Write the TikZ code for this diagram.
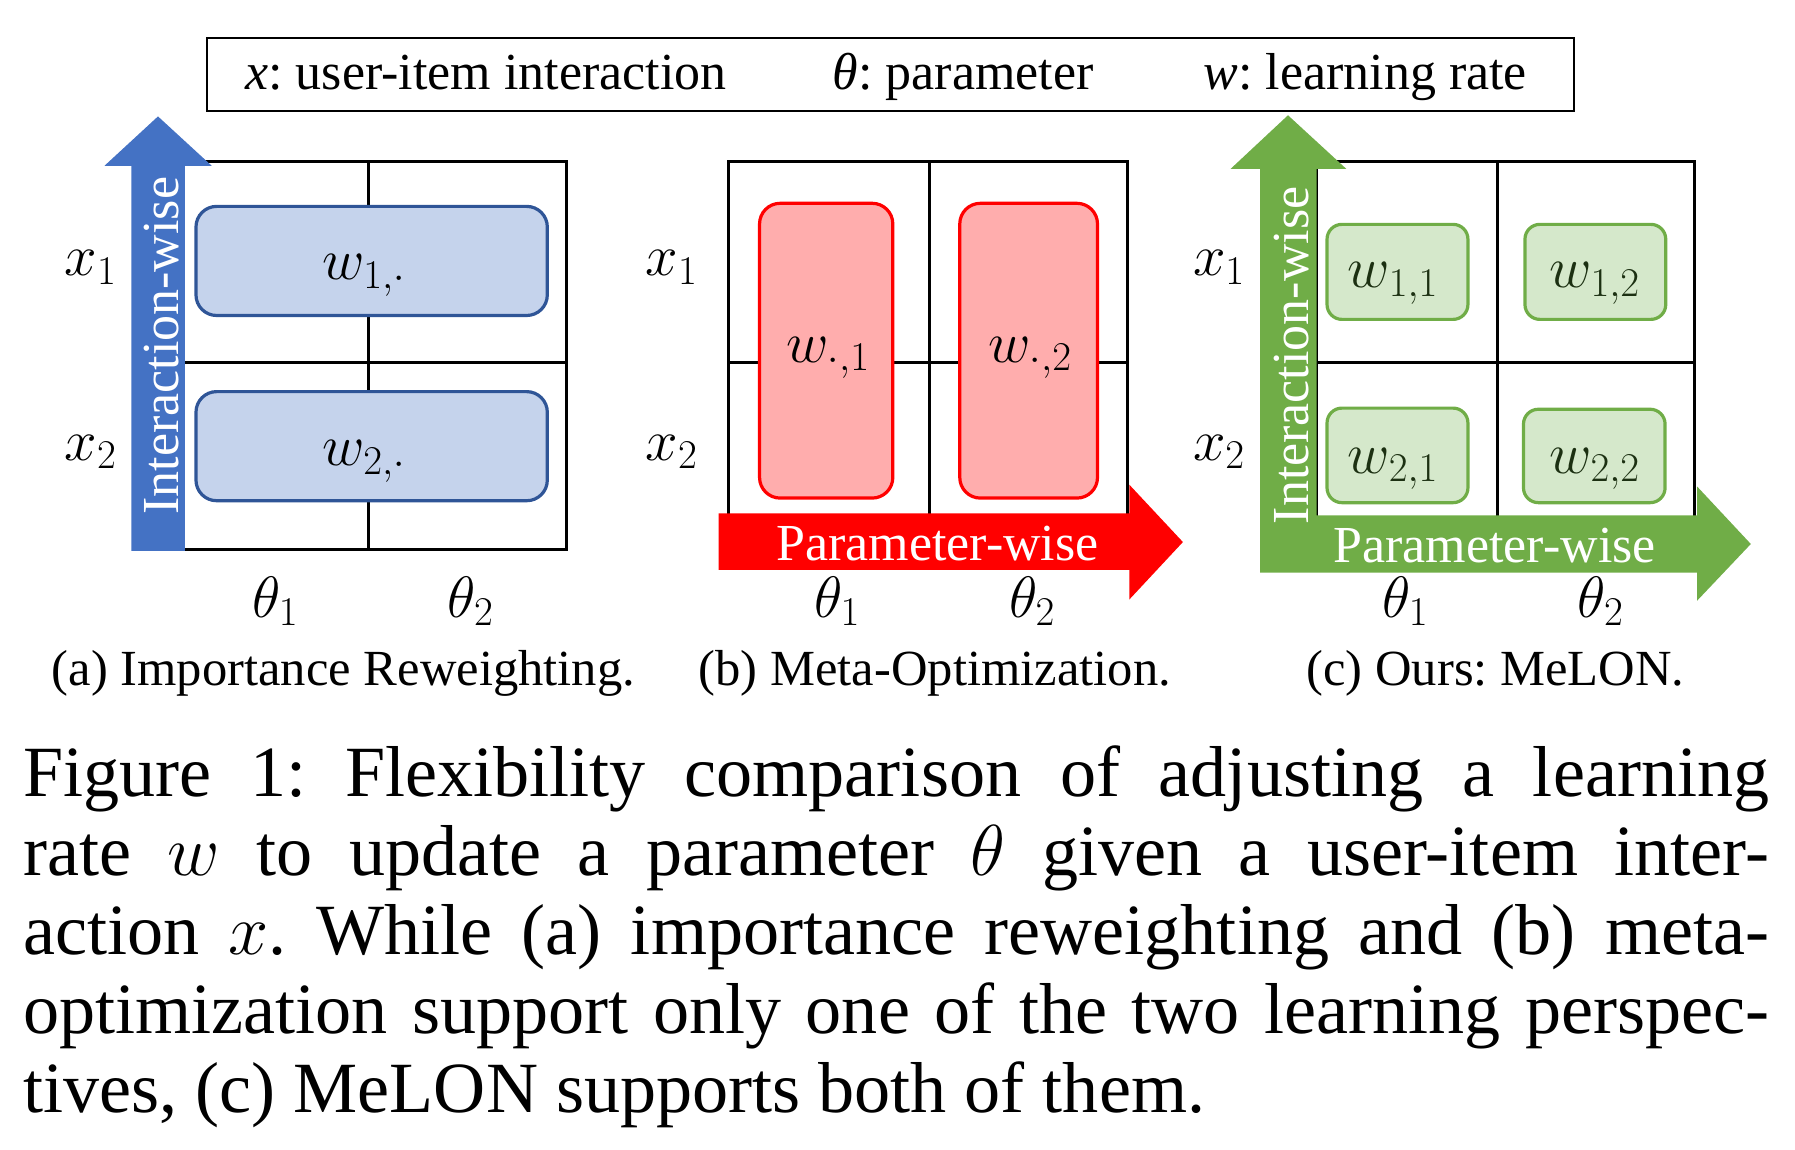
\RequirePackage{fix-cm}
\documentclass[tikz,border=0pt]{standalone}
\usepackage{fontspec}
\setmainfont{Liberation Serif}
\frenchspacing
\definecolor{ablue}{RGB}{68,114,196}
\definecolor{bfill}{RGB}{197,211,236}
\definecolor{bline}{RGB}{47,85,151}
\definecolor{rfill}{RGB}{255,173,173}
\definecolor{rline}{RGB}{255,0,0}
\definecolor{agreen}{RGB}{112,173,71}
\definecolor{gfill}{RGB}{213,232,203}
\definecolor{gtext}{RGB}{28,48,18}
\begin{document}
\begin{tikzpicture}[x=0.5pt,y=-0.5pt,
  gridline/.style={line width=1.4pt, draw=black},
  mlab/.style={font=\fontsize{25.5}{30}\selectfont, inner sep=0pt, anchor=base},
  tlab/.style={font=\fontsize{22.7}{26}\selectfont, inner sep=0pt},
  sublab/.style={font=\fontsize{22.1}{26}\selectfont, inner sep=0pt, anchor=base},
  atext/.style={tlab, text=white, anchor=base},
  bluebox/.style={fill=bfill, draw=bline, line width=1.4pt, rounded corners=9pt},
  redbox/.style={fill=rfill, draw=rline, line width=1.4pt, rounded corners=9pt},
  greenbox/.style={fill=gfill, draw=agreen, line width=1.4pt, rounded corners=6.5pt},
  capline/.style={font=\fontsize{31.5}{35}\selectfont, inner sep=0pt, anchor=base west},
]
\useasboundingbox (0,0) rectangle (1568,1004);

% legend
\draw[line width=1.1pt] (181,33) rectangle (1375,97);
\node[tlab, anchor=base west] (lx) at (214,78) {\textit{x}: user-item interaction};
\node[tlab, anchor=base west] (lt) at (727,78) {\textit{θ}: parameter};
\node[tlab, anchor=base west] (lw) at (1051,78) {\textit{w}: learning rate};

% ---------- (a) ----------
\draw[gridline] (160.5,140.8) rectangle (494.8,480.2);
\draw[gridline] (321.6,140.8) -- (321.6,480.2);
\draw[gridline] (160.5,316.7) -- (494.8,316.7);
\fill[ablue] (114.7,481.2) -- (114.7,144.8) -- (91.3,144.8) -- (138,101.7) -- (184.9,144.8) -- (161.5,144.8) -- (161.5,481.2) -- cycle;
\node[atext, rotate=90] (aint) at (155.5,302) {Interaction-wise};
\draw[bluebox] (171.2,180.3) rectangle (478.1,275.6);
\draw[bluebox] (171.2,342.1) rectangle (478.1,437.4);
\node[mlab] (aw1) at (318,244.5) {$w_{1,\cdot}$};
\node[mlab] (aw2) at (318,406.6) {$w_{2,\cdot}$};
\node[mlab] (ax1) at (79.4,241) {$x_1$};
\node[mlab] (ax2) at (79.4,402) {$x_2$};
\node[mlab] (at1) at (240.7,539) {$\theta_1$};
\node[mlab] (at2) at (411.2,539) {$\theta_2$};
\node[sublab] (acap) at (300,599) {(a) Importance Reweighting.};

% ---------- (b) ----------
\draw[gridline] (636.1,140.8) rectangle (984.8,480);
\draw[gridline] (811.6,140.8) -- (811.6,480);
\draw[gridline] (636.1,316.7) -- (984.8,316.7);
\fill[rline] (627.7,448.4) -- (986.5,448.4) -- (986.5,423.4) -- (1033.3,473.5) -- (986.5,523.7) -- (986.5,497.9) -- (627.7,497.9) -- cycle;
\node[atext] (bpar) at (819,490) {Parameter-wise};
\draw[redbox] (663.5,177.6) rectangle (779.9,435.1);
\draw[redbox] (838.4,177.6) rectangle (958.7,435.1);
\node[mlab] (bw1) at (723.8,316.4) {$w_{\cdot,1}$};
\node[mlab] (bw2) at (900.2,316.4) {$w_{\cdot,2}$};
\node[mlab] (bx1) at (586.8,241) {$x_1$};
\node[mlab] (bx2) at (586.8,402) {$x_2$};
\node[mlab] (bt1) at (731.4,539) {$\theta_1$};
\node[mlab] (bt2) at (901.8,539) {$\theta_2$};
\node[sublab] (bcap) at (816.6,599) {(b) Meta-Optimization.};

% ---------- (c) ----------
\draw[gridline] (1150.2,140.8) rectangle (1480.2,480);
\draw[gridline] (1308,140.8) -- (1308,480);
\draw[gridline] (1150.2,316.7) -- (1480.2,316.7);
\fill[agreen] (1100.7,500.2) -- (1100.7,147.5) -- (1075,147.5) -- (1125.1,100.7) -- (1176,147.5) -- (1150.2,147.5) -- (1150.2,450.1) -- (1482.5,450.1) -- (1482.5,425) -- (1529.4,475.2) -- (1482.5,524.7) -- (1482.5,500.2) -- cycle;
\node[atext, rotate=90] (cint) at (1143.2,310.5) {Interaction-wise};
\node[atext] (cpar) at (1305.6,491) {Parameter-wise};
\draw[greenbox] (1159.2,196) rectangle (1282.3,279);
\draw[greenbox] (1332.1,196) rectangle (1455.1,279);
\draw[greenbox] (1159.2,356.5) rectangle (1282.3,439.1);
\draw[greenbox] (1330.8,357.5) rectangle (1454.5,439.1);
\node[mlab, text=gtext] (cw11) at (1217,251.2) {$w_{1,1}$};
\node[mlab, text=gtext] (cw12) at (1393.3,251.2) {$w_{1,2}$};
\node[mlab, text=gtext] (cw21) at (1217,413.3) {$w_{2,1}$};
\node[mlab, text=gtext] (cw22) at (1393.3,413.3) {$w_{2,2}$};
\node[mlab] (cx1) at (1065,241) {$x_1$};
\node[mlab] (cx2) at (1065,402) {$x_2$};
\node[mlab] (ct1) at (1227.7,539) {$\theta_1$};
\node[mlab] (ct2) at (1398.3,539) {$\theta_2$};
\node[sublab] (ccap) at (1306.4,599) {(c) Ours: MeLON.};

% ---------- caption ----------
\node[capline] (l1) at (20,696) {\makebox[762.5pt][s]{Figure 1: Flexibility comparison of adjusting a learning}};
\node[capline] (l2) at (20,765) {\makebox[762.5pt][s]{rate $w$ to update a parameter $\theta$ given a user-item inter-}};
\node[capline] (l3) at (20,834) {\makebox[762.5pt][s]{action $x$. While (a) importance reweighting and (b) meta-}};
\node[capline] (l4) at (20,903) {\makebox[762.5pt][s]{optimization support only one of the two learning perspec-}};
\node[capline] (l5) at (20,972) {tives, (c) MeLON supports both of them.};
\end{tikzpicture}
\end{document}
